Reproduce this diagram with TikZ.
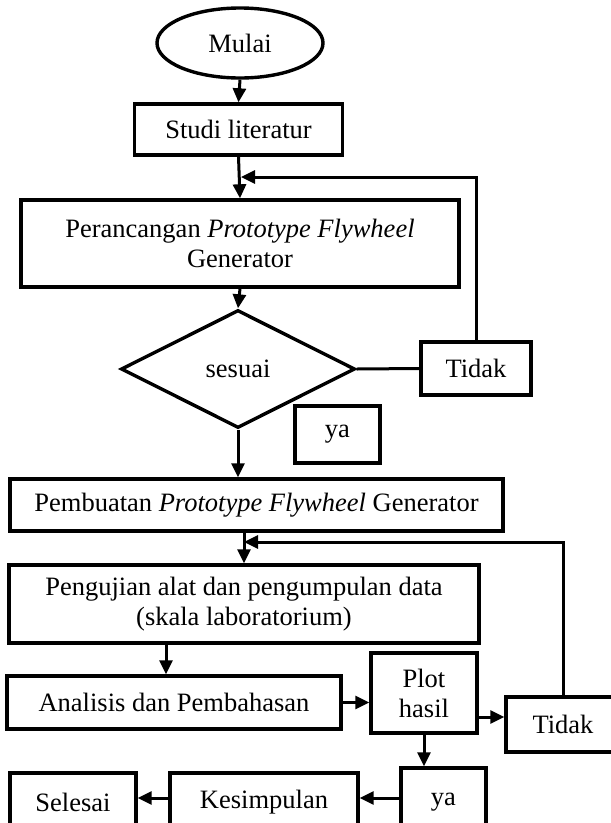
\documentclass[tikz,border=0pt]{standalone}
\usepackage{fontspec}
\setmainfont{Liberation Serif}
\usetikzlibrary{shapes.geometric}
\usetikzlibrary{arrows.meta}

\begin{document}
\begin{tikzpicture}[x=1pt,y=-1pt,>={Triangle[length=14pt,width=13pt]},
    font=\fontsize{26.5}{30}\selectfont,
    kotak/.style={draw,line width=3.4pt,inner sep=0pt,align=center},
    garis/.style={line width=3pt},
    panah/.style={garis,->}]
                        \useasboundingbox (0,0) rectangle (611,823);
                        \clip (0,0) rectangle (611,823);
                        \node[kotak,ellipse,minimum width=166pt,minimum height=70pt] (mulai) at (240,43) {Mulai};
                        \node[kotak,minimum width=208pt,minimum height=51pt] (studi) at (238.5,129.5) {Studi literatur};
                        \node[kotak,minimum width=438pt,minimum height=87pt] (ranc) at (240,243.5) {Perancangan \textit{Prototype Flywheel}\\Generator};
                        \node[kotak,diamond,aspect=2,minimum width=234pt,minimum height=118pt] (sesuai) at (238,369) {sesuai};
                        \node[kotak,minimum width=110pt,minimum height=53pt] (tidak1) at (476,368.5) {Tidak};
                        \node[kotak,minimum width=85pt,minimum height=57pt] (ya1) at (337.5,434.5) {ya};
                        \node[kotak,minimum width=493pt,minimum height=52pt] (buat) at (256.5,505) {Pembuatan \textit{Prototype Flywheel} Generator};
                        \node[kotak,minimum width=470pt,minimum height=78pt] (uji) at (244,604) {Pengujian alat dan pengumpulan data\\(skala laboratorium)};
                        \node[kotak,minimum width=334pt,minimum height=53pt] (analisis) at (174,702.5) {Analisis dan Pembahasan};
                        \node[kotak,minimum width=106pt,minimum height=80pt] (plot) at (424,693) {Plot\\hasil};
                        \node[kotak,minimum width=114pt,minimum height=55pt] (tidak2) at (563,724.5) {Tidak};
                        \node[kotak,minimum width=85pt,minimum height=68pt] (ya2) at (443.5,802) {ya};
                        \node[kotak,minimum width=188pt,minimum height=58pt] (kes) at (264,802) {Kesimpulan};
                        \node[kotak,minimum width=126pt,minimum height=58pt] (selesai) at (73,802) {Selesai};
                        \coordinate (balik1) at (241,177);
                        \coordinate (balik2) at (244,542);
                        % alur utama
                        \draw[panah] (mulai.south) -- (studi.north);
                        \draw[panah] (studi.south) -- (ranc.north);
                        \draw[panah] (ranc.south) -- (sesuai.north);
                        \draw[garis] (sesuai.east) -- (tidak1.west);
                        \draw[panah] (tidak1.north) |- (balik1);
                        \draw[panah] (sesuai.south) -- (sesuai.south |- buat.north);
                        \draw[panah] (buat.south -| balik2) -- (uji.north -| balik2);
                        \draw[panah] (tidak2.north) |- (balik2);
                        \draw[panah] ([xshift=-8pt]analisis.north |- uji.south) -- ([xshift=-8pt]analisis.north);
                        \draw[panah] (analisis.east) -- (analisis.east -| plot.west);
                        \draw[panah] ([yshift=-24pt]plot.east) -- ([yshift=-24pt]plot.east -| tidak2.west);
                        \draw[panah] (plot.south) -- (plot.south |- ya2.north);
                        \draw[panah] ([yshift=4pt]ya2.west) -- ([yshift=4pt]ya2.west -| kes.east);
                        \draw[panah] ([yshift=4pt]kes.west) -- ([yshift=4pt]kes.west -| selesai.east);
                    \end{tikzpicture}
\end{document}
